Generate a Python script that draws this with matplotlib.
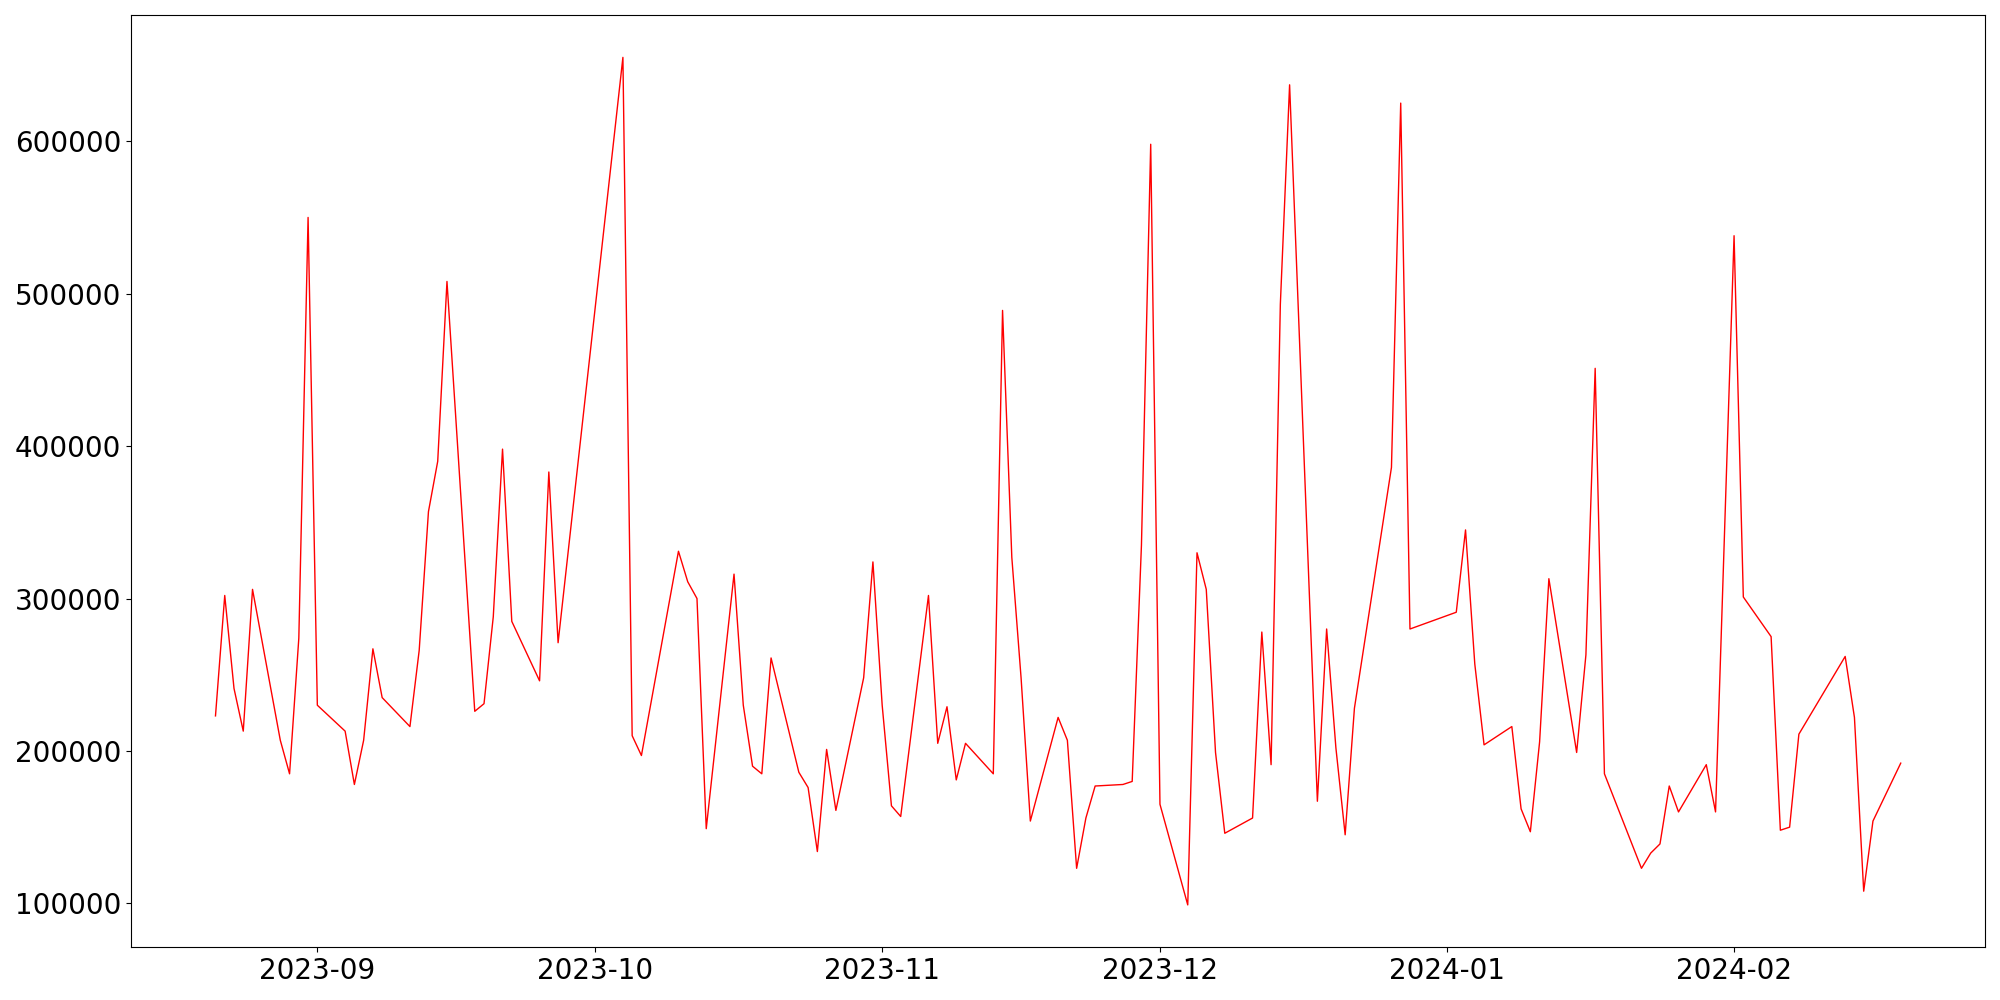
import matplotlib
matplotlib.use("Agg")
import matplotlib.pyplot as plt
import pandas as pd

# trading days
dates = [
    "2023-08-21", "2023-08-22", "2023-08-23", "2023-08-24", "2023-08-25",
    "2023-08-28", "2023-08-29", "2023-08-30", "2023-08-31", "2023-09-01",
    "2023-09-04", "2023-09-05", "2023-09-06", "2023-09-07", "2023-09-08",
    "2023-09-11", "2023-09-12", "2023-09-13", "2023-09-14", "2023-09-15",
    "2023-09-18", "2023-09-19", "2023-09-20", "2023-09-21", "2023-09-22",
    "2023-09-25", "2023-09-26", "2023-09-27", "2023-10-04", "2023-10-05",
    "2023-10-06", "2023-10-10", "2023-10-11", "2023-10-12", "2023-10-13",
    "2023-10-16", "2023-10-17", "2023-10-18", "2023-10-19", "2023-10-20",
    "2023-10-23", "2023-10-24", "2023-10-25", "2023-10-26", "2023-10-27",
    "2023-10-30", "2023-10-31", "2023-11-01", "2023-11-02", "2023-11-03",
    "2023-11-06", "2023-11-07", "2023-11-08", "2023-11-09", "2023-11-10",
    "2023-11-13", "2023-11-14", "2023-11-15", "2023-11-16", "2023-11-17",
    "2023-11-20", "2023-11-21", "2023-11-22", "2023-11-23", "2023-11-24",
    "2023-11-27", "2023-11-28", "2023-11-29", "2023-11-30", "2023-12-01",
    "2023-12-04", "2023-12-05", "2023-12-06", "2023-12-07", "2023-12-08",
    "2023-12-11", "2023-12-12", "2023-12-13", "2023-12-14", "2023-12-15",
    "2023-12-18", "2023-12-19", "2023-12-20", "2023-12-21", "2023-12-22",
    "2023-12-26", "2023-12-27", "2023-12-28", "2024-01-02", "2024-01-03",
    "2024-01-04", "2024-01-05", "2024-01-08", "2024-01-09", "2024-01-10",
    "2024-01-11", "2024-01-12", "2024-01-15", "2024-01-16", "2024-01-17",
    "2024-01-18", "2024-01-22", "2024-01-23", "2024-01-24", "2024-01-25",
    "2024-01-26", "2024-01-29", "2024-01-30", "2024-02-01", "2024-02-02",
    "2024-02-05", "2024-02-06", "2024-02-07", "2024-02-08", "2024-02-13",
    "2024-02-14", "2024-02-15", "2024-02-16", "2024-02-19",
]

values = [
    223000, 302000, 241000, 213000, 306000,
    207000, 185000, 274000, 550000, 230000,
    213000, 178000, 207000, 267000, 235000,
    216000, 266000, 357000, 390000, 508000,
    226000, 231000, 288000, 398000, 285000,
    246000, 383000, 271000, 655000, 210000,
    197000, 331000, 311000, 300000, 149000,
    316000, 230000, 190000, 185000, 261000,
    186000, 176000, 134000, 201000, 161000,
    248000, 324000, 230000, 164000, 157000,
    302000, 205000, 229000, 181000, 205000,
    185000, 489000, 327000, 248000, 154000,
    222000, 207000, 123000, 156000, 177000,
    178000, 180000, 335000, 598000, 165000,
    99000, 330000, 306000, 199000, 146000,
    156000, 278000, 191000, 493000, 637000,
    167000, 280000, 202000, 145000, 228000,
    386000, 625000, 280000, 291000, 345000,
    257000, 204000, 216000, 162000, 147000,
    206000, 313000, 199000, 263000, 451000,
    185000, 123000, 133000, 139000, 177000,
    160000, 191000, 160000, 538000, 301000,
    275000, 148000, 150000, 211000, 262000,
    222000, 108000, 154000, 192000,
]

df = pd.DataFrame({"date": pd.to_datetime(dates), "value": values})

fig, ax = plt.subplots(figsize=(20, 10), dpi=100)
ax.plot(df["date"], df["value"], color="red", linewidth=1)
ax.tick_params(axis="both", labelsize=20)

plt.tight_layout()
plt.savefig("out.png")
